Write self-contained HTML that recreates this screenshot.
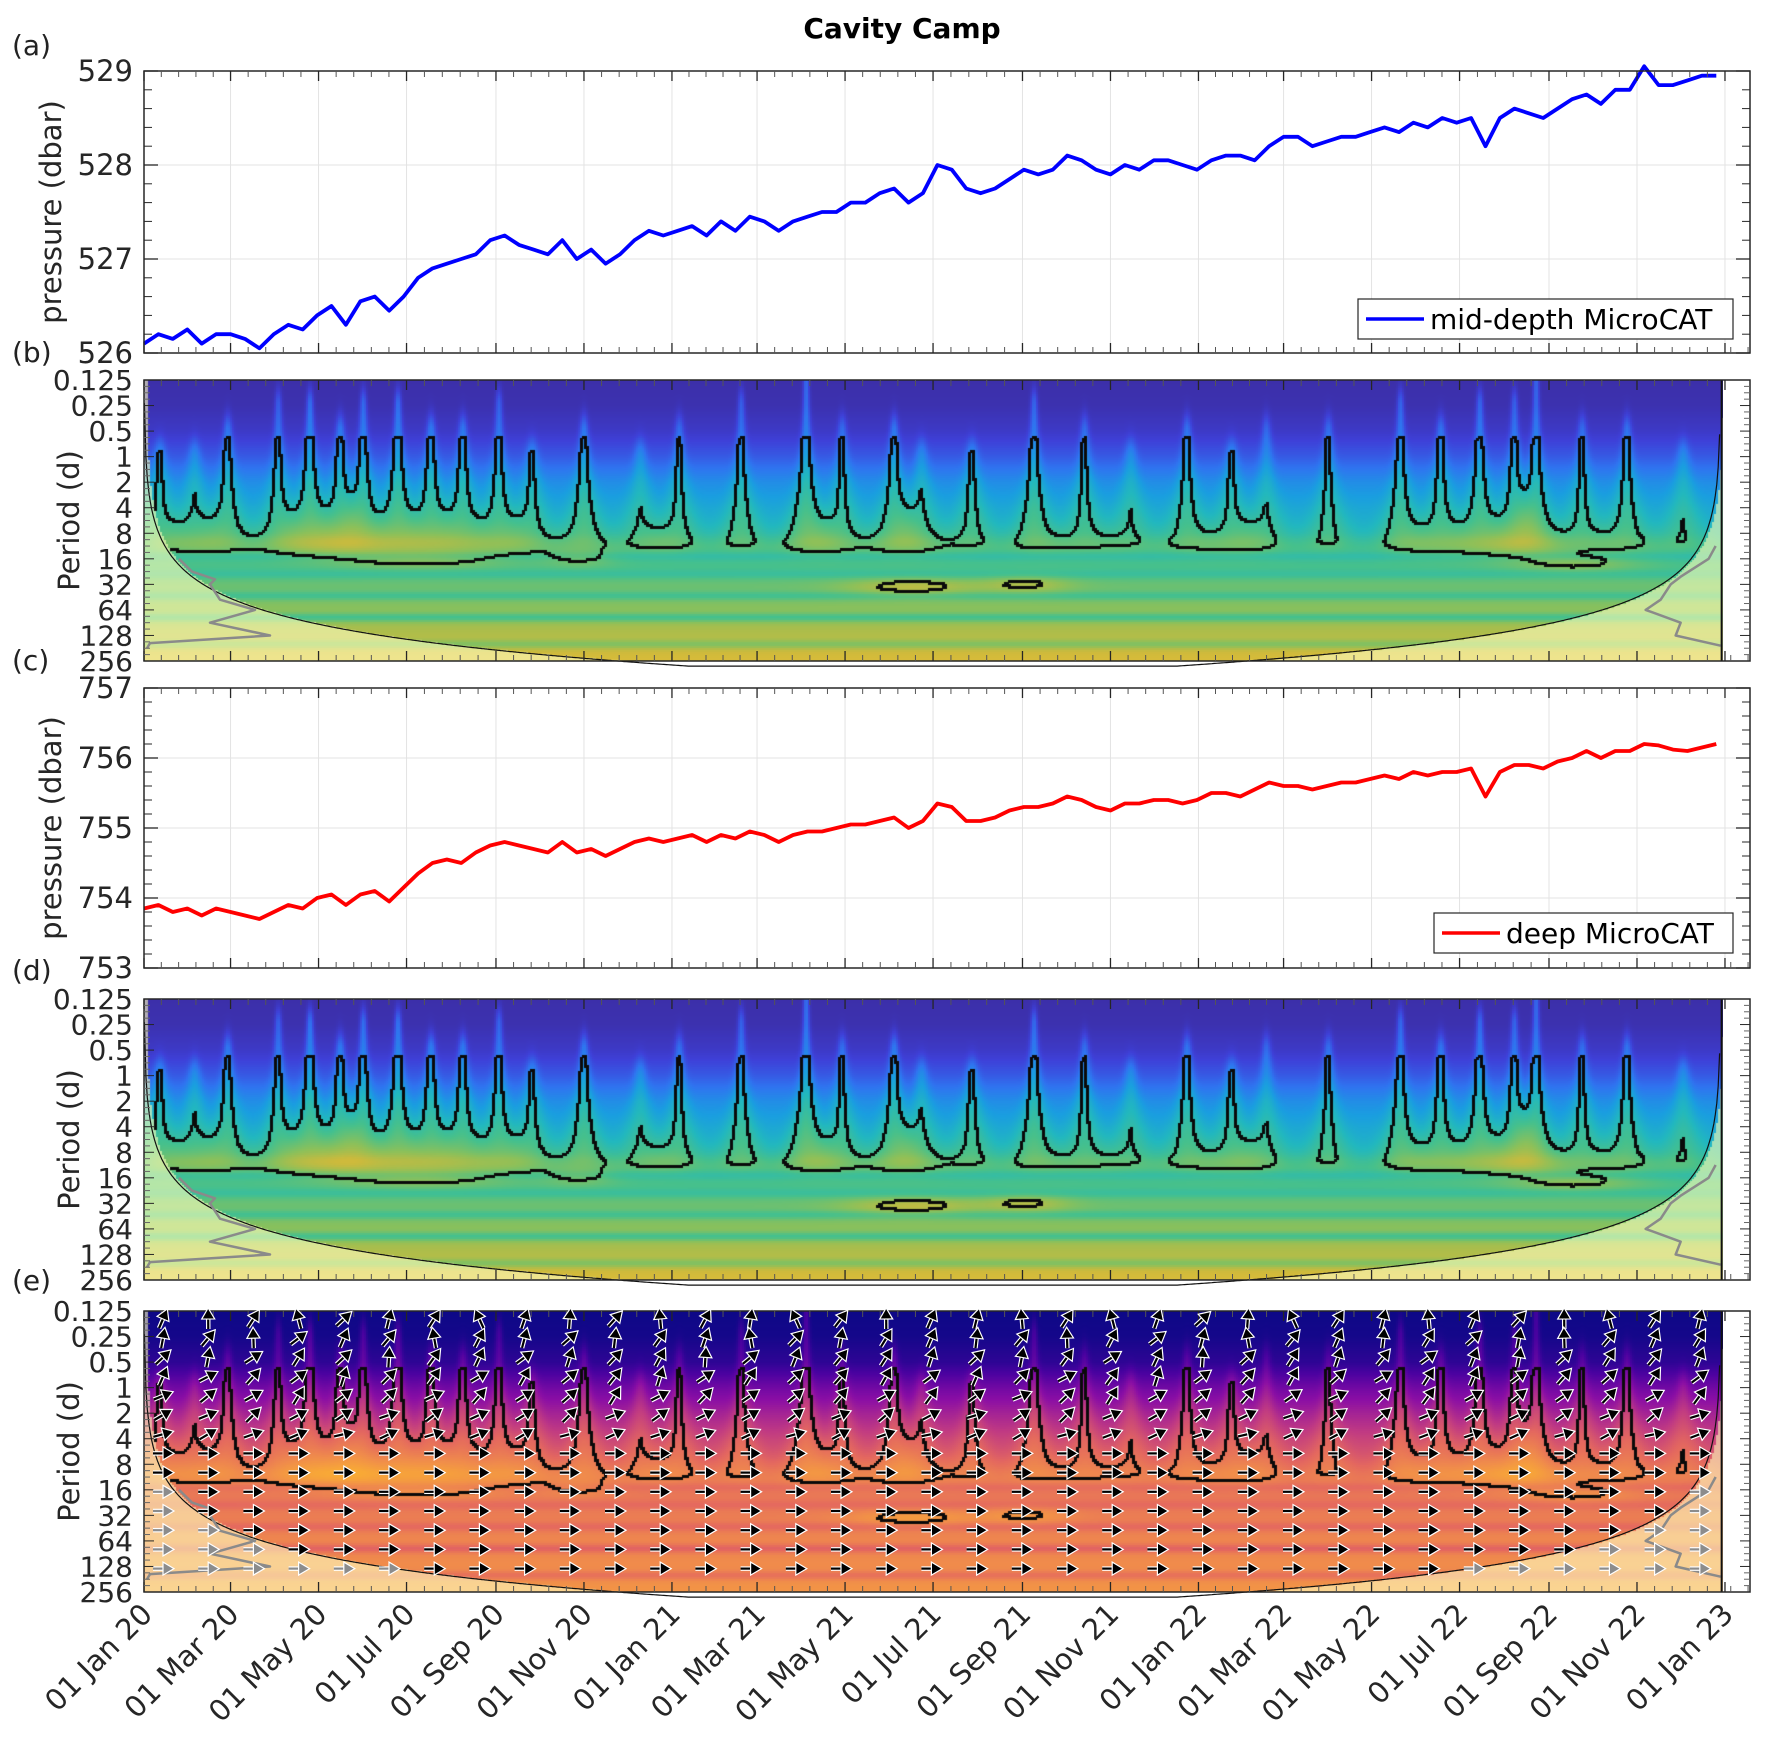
<!DOCTYPE html>
<html><head><meta charset="utf-8"><title>Cavity Camp</title>
<style>
html,body{margin:0;padding:0;background:#fff;}
#wrap{position:relative;width:1768px;height:1746px;overflow:hidden;font-family:"DejaVu Sans","Liberation Sans",sans-serif;}
canvas{position:absolute;}
svg{position:absolute;left:0;top:0;}
</style></head>
<body>
<div id="wrap">
<canvas id="cb" width="1579" height="281" style="left:144px;top:380px"></canvas>
<canvas id="cd" width="1579" height="281" style="left:144px;top:999px"></canvas>
<canvas id="ce" width="1579" height="281" style="left:144px;top:1311px"></canvas>
<svg id="s" width="1768" height="1746"></svg>
</div>
<script>
// ---------- data ----------
const sampleDays = [0,10,20,30,40,50,60,70,80,90,100,110,120,130,140,150,160,170,180,190,200,210,220,230,240,250,260,270,280,290,300,310,320,330,340,350,360,370,380,390,400,410,420,430,440,450,460,470,480,490,500,510,520,530,540,550,560,570,580,590,600,610,620,630,640,650,660,670,680,690,700,710,720,730,740,750,760,770,780,790,800,810,820,830,840,850,860,870,880,890,900,910,920,930,940,950,960,970,980,990,1000,1010,1020,1030,1040,1050,1060,1070,1080,1090];
const midPressure = [526.1,526.2,526.15,526.25,526.1,526.2,526.2,526.15,526.05,526.2,526.3,526.25,526.4,526.5,526.3,526.55,526.6,526.45,526.6,526.8,526.9,526.95,527.0,527.05,527.2,527.25,527.15,527.1,527.05,527.2,527.0,527.1,526.95,527.05,527.2,527.3,527.25,527.3,527.35,527.25,527.4,527.3,527.45,527.4,527.3,527.4,527.45,527.5,527.5,527.6,527.6,527.7,527.75,527.6,527.7,528.0,527.95,527.75,527.7,527.75,527.85,527.95,527.9,527.95,528.1,528.05,527.95,527.9,528.0,527.95,528.05,528.05,528.0,527.95,528.05,528.1,528.1,528.05,528.2,528.3,528.3,528.2,528.25,528.3,528.3,528.35,528.4,528.35,528.45,528.4,528.5,528.45,528.5,528.2,528.5,528.6,528.55,528.5,528.6,528.7,528.75,528.65,528.8,528.8,529.05,528.85,528.85,528.9,528.95,528.95];
const deepPressure = [753.85,753.9,753.8,753.85,753.75,753.85,753.8,753.75,753.7,753.8,753.9,753.85,754.0,754.05,753.9,754.05,754.1,753.95,754.15,754.35,754.5,754.55,754.5,754.65,754.75,754.8,754.75,754.7,754.65,754.8,754.65,754.7,754.6,754.7,754.8,754.85,754.8,754.85,754.9,754.8,754.9,754.85,754.95,754.9,754.8,754.9,754.95,754.95,755.0,755.05,755.05,755.1,755.15,755.0,755.1,755.35,755.3,755.1,755.1,755.15,755.25,755.3,755.3,755.35,755.45,755.4,755.3,755.25,755.35,755.35,755.4,755.4,755.35,755.4,755.5,755.5,755.45,755.55,755.65,755.6,755.6,755.55,755.6,755.65,755.65,755.7,755.75,755.7,755.8,755.75,755.8,755.8,755.85,755.45,755.8,755.9,755.9,755.85,755.95,756.0,756.1,756.0,756.1,756.1,756.2,756.18,756.12,756.1,756.15,756.2];
const xTickLabels = ["01 Jan 20","01 Mar 20","01 May 20","01 Jul 20","01 Sep 20","01 Nov 20","01 Jan 21","01 Mar 21","01 May 21","01 Jul 21","01 Sep 21","01 Nov 21","01 Jan 22","01 Mar 22","01 May 22","01 Jul 22","01 Sep 22","01 Nov 22","01 Jan 23"];
const xTickDays = [0,60,121,182,244,305,366,425,486,547,609,670,731,790,851,912,974,1035,1096];
const periodLabels = ["0.125","0.25","0.5","1","2","4","8","16","32","64","128","256"];
const midTicks = [526,527,528,529];
const deepTicks = [753,754,755,756,757];
// wavelet power model
const basePowerB = [0.02,0.03,0.07,0.15,0.26,0.33,0.38,0.47,0.55,0.6,0.66,0.73];
const basePowerE = [0.0,0.02,0.08,0.24,0.37,0.48,0.56,0.63,0.67,0.7,0.72,0.75];
const burstDays = [9,33,56,91,113,134,150,174,197,219,244,267,303,342,369,412,457,482,518,537,572,615,650,682,721,752,776,819,869,897,924,948,963,995,1026,1065];
const burstAmp = [0.22,0.2,0.25,0.24,0.3,0.26,0.28,0.3,0.27,0.26,0.25,0.22,0.26,0.2,0.22,0.24,0.3,0.22,0.26,0.2,0.22,0.27,0.22,0.2,0.24,0.22,0.2,0.22,0.26,0.24,0.27,0.25,0.28,0.22,0.24,0.2];
const burstReach = [3,3,2,1,1,2,1,1,2,2,1,3,2,3,2,1,0,2,2,3,3,1,2,3,2,3,2,2,1,2,1,1,0,2,2,3];
const blobDays = [530,610,190,990,300];
const blobRows = [8.1,8.0,7.1,7.2,7.0];
const blobAmp = [0.26,0.22,0.17,0.2,0.16];
const blobWidth = [45,30,60,45,25];
const bandRows = [9.3,8.45,10.35,6.9,7.6];
const bandAmp = [-0.12,-0.08,-0.1,-0.05,-0.05];
const gwsRowsL = [7,7.5,7.8,8,8.6,9,9.5,10,10.3,10.5];
const gwsOffL = [32,45,68,63,73,108,63,123,3,0];
const gwsRowsR = [6.5,7,7.7,8,8.6,9,9.5,10,10.4];
const gwsOffR = [5,12,40,50,60,75,40,45,0];
const arrowColAngles = [70,95,60,110,45,80,60,120,75,90,50,100,65,85,120,55,95,70,80,100,60,110,75,45,90,120,60,80,100,70,50,95,110,60,80];

// ---------- geometry ----------
const X0=144, X1=1750, DPX=1.4425, DATA_END=1093;
const xs = d => X0 + d*DPX;
const P = {a:[71,353],b:[380,661],c:[688,968],d:[999,1280],e:[1311,1592]};
const NS='http://www.w3.org/2000/svg';
const svg=document.getElementById('s');
function mk(tag, attrs, parent){const el=document.createElementNS(NS,tag);for(const k in attrs)el.setAttribute(k,attrs[k]);(parent||svg).appendChild(el);return el;}
function txt(str, attrs, parent){const t=mk('text',attrs,parent);t.textContent=str;return t;}
const FONT='"DejaVu Sans","Liberation Sans",sans-serif';

let el=txt('Cavity Camp',{x:902,y:38,'text-anchor':'middle','font-family':FONT,'font-size':28,'font-weight':'bold',fill:'#000'});



const letters=[['(a)',55],['(b)',362],['(c)',670],['(d)',980],['(e)',1290]];
letters.forEach(l=>{const t=txt(l[0],{x:12,y:l[1],'font-family':FONT,'font-size':28,fill:'#222'});

});

function xTicks(g, top, bot){
  for(let i=0;i<xTickDays.length;i++){
    const x=xs(xTickDays[i]);
    mk('line',{x1:x,y1:bot,x2:x,y2:bot-10,stroke:'#262626','stroke-width':1.3},g);
    mk('line',{x1:x,y1:top,x2:x,y2:top+10,stroke:'#262626','stroke-width':1.3},g);
    if(i<xTickDays.length-1){const d0=xTickDays[i],d1=xTickDays[i+1];
      for(let k=1;k<5;k++){const xm=xs(d0+(d1-d0)*k/5);
        mk('line',{x1:xm,y1:bot,x2:xm,y2:bot-6,stroke:'#555','stroke-width':1},g);
        mk('line',{x1:xm,y1:top,x2:xm,y2:top+6,stroke:'#555','stroke-width':1},g);}}
  }
  for(let d=1100;d<1113;d+=12){const xm=xs(d);mk('line',{x1:xm,y1:bot,x2:xm,y2:bot-6,stroke:'#555'},g);}
}

function linePanel(key, vals, ticks, color, legendText, legendBox, nameBase){
  const [top,bot]=P[key];const lo=ticks[0],hi=ticks[ticks.length-1];
  const ys=v=>bot-(v-lo)/(hi-lo)*(bot-top);
  const g=mk('g',{});
  
  
  xTickDays.forEach(d=>mk('line',{x1:xs(d),y1:top,x2:xs(d),y2:bot,stroke:'#e3e3e3','stroke-width':1},g));
  ticks.forEach(v=>mk('line',{x1:X0,y1:ys(v),x2:X1,y2:ys(v),stroke:'#e3e3e3','stroke-width':1},g));
  let dstr='';sampleDays.forEach((d,i)=>{dstr+=(i?'L':'M')+xs(d).toFixed(1)+','+ys(vals[i]).toFixed(1);});
  const pl=mk('path',{d:dstr,fill:'none',stroke:color,'stroke-width':3.8,'stroke-linejoin':'round'},g);
  
  
  mk('rect',{x:X0,y:top,width:X1-X0,height:bot-top,fill:'none',stroke:'#262626','stroke-width':1.5},g);
  xTicks(g,top,bot);
  ticks.forEach((v,i)=>{
    mk('line',{x1:X0,y1:ys(v),x2:X0+14,y2:ys(v),stroke:'#262626','stroke-width':1.3},g);
    mk('line',{x1:X1,y1:ys(v),x2:X1-14,y2:ys(v),stroke:'#262626','stroke-width':1.3},g);
    if(i<ticks.length-1)for(let k=1;k<5;k++){const y=ys(v+k*0.2);
      mk('line',{x1:X0,y1:y,x2:X0+8,y2:y,stroke:'#262626'},g);mk('line',{x1:X1,y1:y,x2:X1-8,y2:y,stroke:'#262626'},g);}
    const t=txt(String(v),{x:133,y:ys(v)+10,'text-anchor':'end','font-family':FONT,'font-size':29,fill:'#262626'},g);
    
    
  });
  const yl=txt('pressure (dbar)',{x:0,y:0,transform:`translate(61,${(top+bot)/2}) rotate(-90)`,'text-anchor':'middle','font-family':FONT,'font-size':29,fill:'#262626'},g);
  
  
  const lg=mk('g',{});
  
  
  const [lx,ly,lw,lh]=legendBox;
  mk('rect',{x:lx,y:ly,width:lw,height:lh,fill:'#fff',stroke:'#262626','stroke-width':1.2},lg);
  mk('line',{x1:lx+8,y1:ly+lh/2,x2:lx+66,y2:ly+lh/2,stroke:color,'stroke-width':3.6},lg);
  txt(legendText,{x:lx+72,y:ly+lh/2+10,'font-family':FONT,'font-size':28,fill:'#000'},lg);
}
linePanel('a',midPressure,midTicks,'#0000ff','mid-depth MicroCAT',[1358,299,375,40],'mid-depth');
linePanel('c',deepPressure,deepTicks,'#ff0000','deep MicroCAT',[1434,913,299,40],'deep');

// ---------- wavelet ----------
const parula=[[0,[59,43,158]],[0.1,[62,64,216]],[0.2,[47,116,240]],[0.3,[26,158,224]],[0.4,[34,184,190]],[0.5,[70,192,140]],[0.6,[140,192,90]],[0.7,[205,186,60]],[0.8,[240,190,50]],[1,[249,224,40]]];
const plasma=[[0,[13,8,135]],[0.15,[74,2,160]],[0.3,[138,14,165]],[0.45,[192,58,131]],[0.6,[228,104,95]],[0.72,[240,140,75]],[0.85,[250,175,50]],[1,[240,249,33]]];
function cmap(st,v){v=Math.max(0,Math.min(1,v));for(let i=1;i<st.length;i++){if(v<=st[i][0]){const a=st[i-1],b=st[i],f=(v-a[0])/(b[0]-a[0]);return [0,1,2].map(k=>a[1][k]+(b[1][k]-a[1][k])*f);}}return st[st.length-1][1];}
function interpArr(arr,p){const i=Math.max(0,Math.min(arr.length-1.001,p));const i0=Math.floor(i),f=i-i0;return arr[i0]*(1-f)+arr[Math.min(arr.length-1,i0+1)]*f;}
function coiRow(t){const dist=Math.max(0.01,Math.min(t,DATA_END-t));return Math.log2(0.78*dist/0.125);}
function burstField(t,p){
  let s=0;const period=0.125*Math.pow(2,p);const sig=1.5+3*Math.pow(period,0.8);
  for(let i=0;i<burstDays.length;i++){const dt=(t-burstDays[i])/sig;if(dt*dt>9)continue;
    let w=Math.exp(-dt*dt);const r=burstReach[i];if(p<r)w*=Math.exp(-(r-p)*(r-p)*2);if(p>6.2)w*=Math.exp(-(p-6.2)*(p-6.2)*2.5);
    s+=burstAmp[i]*w;}
  return s;}
function blobField(t,p){let s=0;for(let i=0;i<blobDays.length;i++){const dt=(t-blobDays[i])/blobWidth[i],dp=(p-blobRows[i])/0.35;s+=blobAmp[i]*Math.exp(-dt*dt-dp*dp);}return s;}
function bandField(p){let b=0;for(let i=0;i<bandRows.length;i++){const dp=(p-bandRows[i])/0.18;b+=bandAmp[i]*Math.exp(-dp*dp);}return b;}
function drawWavelet(id,key,base,cm,gain){
  const cv=document.getElementById(id),ctx=cv.getContext('2d');const W=cv.width,H=cv.height;
  const img=ctx.createImageData(W,H);const step=2;
  const nx=Math.ceil(W/step),ny=Math.ceil(H/step);const S=new Float32Array(nx*ny),IN=new Uint8Array(nx*ny);
  for(let j=0;j<ny;j++){const p=(j*step+1)/H*11;const b0=interpArr(base,p)+bandField(p);
    for(let i=0;i<nx;i++){const x=i*step+1;const t=(x-3)/DPX;const sb=burstField(t,p),sl=blobField(t,p);
      S[j*nx+i]=(p>2.3&&p<9)?sb+sl:0;const inside=p<coiRow(t)&&t>0&&t<DATA_END;IN[j*nx+i]=inside?1:0;
      let c=cmap(cm,b0+(sb*0.55+sl*0.45)*gain);if(!inside){c=c.map(v=>v*0.4+255*0.6);c[2]=c[2]*0.8;}
      for(let yy=j*step;yy<Math.min(H,j*step+step);yy++)for(let xx=i*step;xx<Math.min(W,i*step+step);xx++){const o=(yy*W+xx)*4;img.data[o]=c[0];img.data[o+1]=c[1];img.data[o+2]=c[2];img.data[o+3]=255;}}}
  const th=0.2;
  for(let j=0;j<ny-1;j++)for(let i=0;i<nx-1;i++){const k=j*nx+i;if(!IN[k])continue;const a=S[k]>th;
    if(a!==(S[k+1]>th)||a!==(S[k+nx]>th)){for(let yy=j*step;yy<j*step+3&&yy<H;yy++)for(let xx=i*step;xx<i*step+3&&xx<W;xx++){const o=(yy*W+xx)*4;img.data[o]=10;img.data[o+1]=10;img.data[o+2]=10;}}}
  const xe=Math.round(DATA_END*DPX)+2;
  for(let yy=0;yy<H;yy++)for(let xx=xe;xx<W;xx++){const o=(yy*W+xx)*4;img.data[o]=255;img.data[o+1]=255;img.data[o+2]=255;}
  ctx.putImageData(img,0,0);
  const [top,bot]=P[key];const rowY=p=>top+p/11*(bot-top);
  const g=mk('g',{});
  
  
  let d='';for(let t=0.3;t<=DATA_END-0.3;t+=1){const r=Math.min(11.2,coiRow(t));d+=(d?'L':'M')+xs(t).toFixed(1)+','+rowY(Math.max(0,r)).toFixed(1);}
  const coi=mk('path',{d:d,fill:'none',stroke:'#111','stroke-width':1.2},g);
  
  
  let gl='';gwsRowsL.forEach((r,i)=>{gl+=(i?'L':'M')+(X0+3+gwsOffL[i])+','+rowY(r).toFixed(1);});
  const gsl=mk('path',{d:gl,fill:'none',stroke:'#8a8a8a','stroke-width':2.5,'stroke-linejoin':'round'},g);
  
  
  const xR=xs(DATA_END);let gr='';gwsRowsR.forEach((r,i)=>{gr+=(i?'L':'M')+(xR-gwsOffR[i])+','+rowY(r).toFixed(1);});
  const gsr=mk('path',{d:gr,fill:'none',stroke:'#8a8a8a','stroke-width':2.5,'stroke-linejoin':'round'},g);
  
  
  mk('line',{x1:xR+1,y1:top,x2:xR+1,y2:bot,stroke:'#111','stroke-width':2},g);
  mk('rect',{x:X0,y:top,width:X1-X0,height:bot-top,fill:'none',stroke:'#262626','stroke-width':1.5},g);
  xTicks(g,top,bot);
  periodLabels.forEach((lab,i)=>{const y=rowY(i);
    mk('line',{x1:X0,y1:y,x2:X0+10,y2:y,stroke:'#262626'},g);mk('line',{x1:X1,y1:y,x2:X1-10,y2:y,stroke:'#262626'},g);
    if(i<11)for(let k=1;k<4;k++){const ym=y+k*(bot-top)/44;mk('line',{x1:X0,y1:ym,x2:X0+6,y2:ym,stroke:'#666'},g);mk('line',{x1:X1,y1:ym,x2:X1-6,y2:ym,stroke:'#666'},g);}
    const t=txt(lab,{x:133,y:y+10,'text-anchor':'end','font-family':FONT,'font-size':28,fill:'#262626'},g);
    
    });
  const yl=txt('Period (d)',{x:0,y:0,transform:`translate(79,${(top+bot)/2}) rotate(-90)`,'text-anchor':'middle','font-family':FONT,'font-size':29,fill:'#262626'},g);
  
  
  return {rowY,g};
}
drawWavelet('cb','b',basePowerB,parula,1.0);
drawWavelet('cd','d',basePowerB,parula,1.05);
drawWavelet('ce','e',basePowerE,plasma,0.9);

// phase arrows
(function(){const [top,bot]=P.e;const ag=mk('g',{});
  
  
  for(let c=0;c<arrowColAngles.length;c++){const x=163+c*45.2;if(x>1715)break;const t=(x-X0)/DPX;
    for(let r=0;r<14;r++){const y=top+8+r*19.2;const p=(y-top)/(bot-top)*11;
      const ang=p<5.5?arrowColAngles[(c+r)%arrowColAngles.length]*(1-p/6.5):0;const inside=p<coiRow(t);
      const col=inside?'#000':'#8c8c8c';
      const arr=mk('g',{transform:`translate(${x},${y}) rotate(${-ang})`},ag);
      
      
      mk('line',{x1:-10,y1:0,x2:2,y2:0,stroke:'#fff','stroke-width':4.5},arr);
      mk('line',{x1:-10,y1:0,x2:2,y2:0,stroke:col,'stroke-width':2.2},arr);
      mk('polygon',{points:'11,0 0,-6.5 0,6.5',fill:col,stroke:'#fff','stroke-width':1.2},arr);
    }}})();

xTickLabels.forEach((lab,i)=>{const x=xs(xTickDays[i]);
  const t=txt(lab,{x:0,y:0,transform:`translate(${x+10},${P.e[1]+24}) rotate(-45)`,'text-anchor':'end','font-family':FONT,'font-size':29,fill:'#262626'});
  
  });
</script>
</body></html>
